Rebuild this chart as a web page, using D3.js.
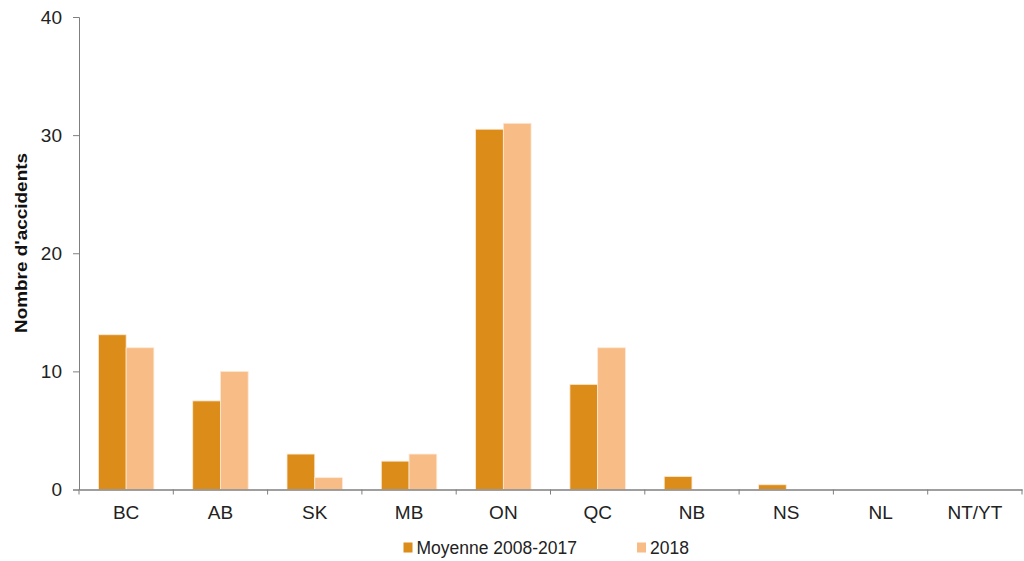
<!DOCTYPE html>
<html><head><meta charset="utf-8">
<script src="https://cdn.jsdelivr.net/npm/d3@7/dist/d3.min.js"></script>
<style>body{margin:0;background:#fff;} text{font-family:"Liberation Sans",Arial,sans-serif;}</style>
</head><body><svg id="c" width="1024" height="561"></svg>
<script>
const categories = ["BC","AB","SK","MB","ON","QC","NB","NS","NL","NT/YT"];
const seriesNames = ["Moyenne 2008-2017","2018"];
const moyenne = [13.1,7.5,3.0,2.4,30.5,8.9,1.1,0.4,0,0];
const an2018 = [12,10,1,3,31,12,0,0,0,0];
const yTicks = [0,10,20,30,40];
const colors = ["#DC8C19","#F8BC87"];

const svg = d3.select("#c");
const m = {l:79, r:1022, t:17, b:489.5};
const x0 = d3.scaleBand().domain(categories).range([m.l,m.r]).padding(0);
const x1 = d3.scaleBand().domain(seriesNames).range([0,x0.bandwidth()]).paddingInner(0).paddingOuter(0.70);
const y = d3.scaleLinear().domain([0,40]).range([m.b,m.t]);
const data = categories.map((c,i)=>({c, vals:[moyenne[i],an2018[i]]}));

const g = svg.append("g");
data.forEach(d=>{
  d.vals.forEach((v,j)=>{
    if(v<=0) return;
    g.append("rect")
      .attr("x", x0(d.c)+x1(seriesNames[j]))
      .attr("y", y(v))
      .attr("width", x1.bandwidth())
      .attr("height", y(0)-y(v))
      .attr("fill", colors[j])
      .attr("stroke", "#fde9d4").attr("stroke-width",0.8);
  });
});

// y axis
const ya = svg.append("g").attr("transform",`translate(${m.l},0)`)
  .call(d3.axisLeft(y).tickValues(yTicks).tickSize(6).tickPadding(11));
ya.select(".domain").attr("stroke","#7f7f7f");
ya.selectAll(".tick line").attr("stroke","#7f7f7f");
ya.selectAll(".tick text").attr("font-size","19px").attr("fill","#222").attr("font-family","Liberation Sans, Arial, sans-serif");

// x axis
const xa = svg.append("g").attr("transform",`translate(0,${m.b})`)
  .call(d3.axisBottom(x0).tickSize(0).tickPadding(16));
xa.select(".domain").attr("stroke","#7f7f7f").attr("stroke-width",1.3);
xa.selectAll(".tick text").attr("font-size","19px").attr("fill","#222").attr("font-family","Liberation Sans, Arial, sans-serif");
// boundary ticks
const bounds = categories.map(c=>x0(c)).concat([m.r]);
svg.append("g").selectAll("line").data(bounds).join("line")
  .attr("x1",d=>d).attr("x2",d=>d).attr("y1",m.b).attr("y2",m.b+5)
  .attr("stroke","#7f7f7f");

// y label
svg.append("text").attr("transform",`translate(27,243) rotate(-90)`)
  .attr("text-anchor","middle").attr("font-size","17px").attr("font-weight","bold").attr("fill","#111")
  .attr("textLength",180).attr("lengthAdjust","spacingAndGlyphs")
  .text("Nombre d'accidents");

// legend
const leg = [{x:403.5, t:seriesNames[0]},{x:637, t:seriesNames[1]}];
leg.forEach((l,i)=>{
  svg.append("rect").attr("x",l.x).attr("y",542.5).attr("width",9).attr("height",10).attr("fill",colors[i]);
  svg.append("text").attr("x",l.x+13).attr("y",553.5).attr("font-size","17.5px").attr("fill","#222").text(l.t);
});
</script></body></html>
